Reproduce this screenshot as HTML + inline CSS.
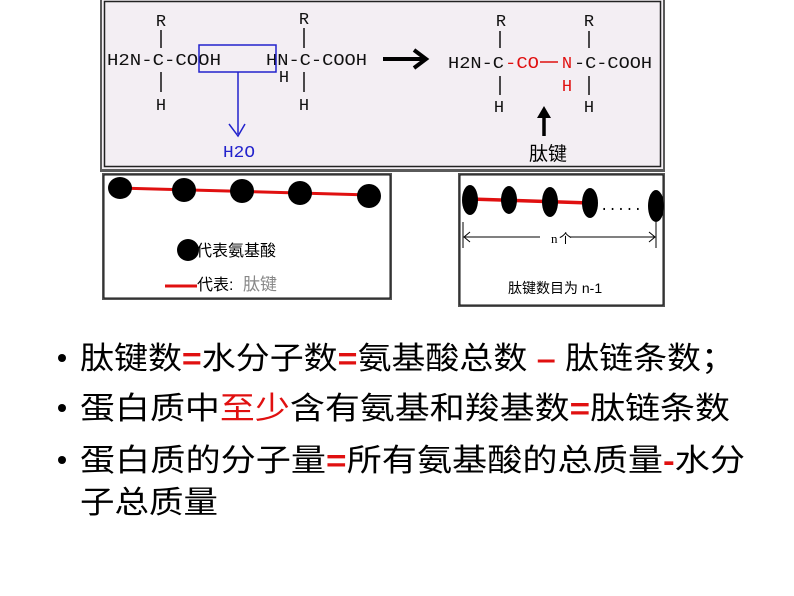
<!DOCTYPE html>
<html><head><meta charset="utf-8"><style>
html,body{margin:0;padding:0;background:#fff;}
svg{display:block}
.m{font-family:"Liberation Mono","DejaVu Sans Mono",monospace;font-size:17px;}
.t{font-family:"Liberation Sans","Noto Sans CJK SC",sans-serif;font-size:31px;fill:#000;}
</style></head><body>
<svg width="794" height="596" viewBox="0 0 794 596" xmlns="http://www.w3.org/2000/svg">
<!-- top box -->
<rect x="100" y="0" width="565" height="172" fill="#5a5a5a"/>
<rect x="102" y="0" width="561" height="169" fill="#f3eef3"/>
<rect x="104.5" y="1.5" width="556" height="165" fill="none" stroke="#222" stroke-width="1.5"/>
<g class="m" fill="#111">
<text x="161" y="26" text-anchor="middle">R</text>
<line x1="161" y1="30" x2="161" y2="48" stroke="#111" stroke-width="1.5"/>
<text x="107" y="65" textLength="114" lengthAdjust="spacingAndGlyphs">H2N-C-COOH</text>
<line x1="161" y1="72" x2="161" y2="92" stroke="#111" stroke-width="1.5"/>
<text x="161" y="110" text-anchor="middle">H</text>
<text x="304" y="24" text-anchor="middle">R</text>
<line x1="304" y1="28" x2="304" y2="48" stroke="#111" stroke-width="1.5"/>
<text x="266" y="65" textLength="101" lengthAdjust="spacingAndGlyphs">HN-C-COOH</text>
<text x="284" y="82" text-anchor="middle">H</text>
<line x1="304" y1="72" x2="304" y2="92" stroke="#111" stroke-width="1.5"/>
<text x="304" y="110" text-anchor="middle">H</text>
</g>
<rect x="199" y="45" width="77" height="27" fill="none" stroke="#2222cc" stroke-width="1.5"/>
<line x1="238" y1="72" x2="238" y2="134" stroke="#2222cc" stroke-width="1.5"/>
<polyline points="229,124 238,136 245,124" fill="none" stroke="#2222cc" stroke-width="1.5"/>
<text class="m" x="239" y="157" text-anchor="middle" fill="#2222cc" textLength="32" lengthAdjust="spacingAndGlyphs">H2O</text>
<!-- arrow -->
<line x1="383" y1="59" x2="423" y2="59" stroke="#000" stroke-width="4"/>
<polyline points="414,50 426,59 414,68" fill="none" stroke="#000" stroke-width="4"/>
<!-- product -->
<g class="m">
<text x="501" y="26" text-anchor="middle" fill="#111">R</text>
<line x1="500" y1="31" x2="500" y2="48" stroke="#111" stroke-width="1.5"/>
<text x="448" y="68" fill="#111" textLength="56" lengthAdjust="spacingAndGlyphs">H2N-C</text>
<text x="505" y="68" fill="#e01010" textLength="34" lengthAdjust="spacingAndGlyphs">-CO</text>
<line x1="540" y1="62" x2="558" y2="62" stroke="#e01010" stroke-width="1.5"/>
<text x="567" y="68" text-anchor="middle" fill="#e01010">N</text>
<text x="567" y="91" text-anchor="middle" fill="#e01010">H</text>
<text x="574" y="68" fill="#111" textLength="78" lengthAdjust="spacingAndGlyphs">-C-COOH</text>
<line x1="500" y1="76" x2="500" y2="95" stroke="#111" stroke-width="1.5"/>
<text x="499" y="112" text-anchor="middle" fill="#111">H</text>
<text x="589" y="26" text-anchor="middle" fill="#111">R</text>
<line x1="589" y1="31" x2="589" y2="48" stroke="#111" stroke-width="1.5"/>
<line x1="589" y1="76" x2="589" y2="95" stroke="#111" stroke-width="1.5"/>
<text x="589" y="112" text-anchor="middle" fill="#111">H</text>
</g>
<line x1="544" y1="112" x2="544" y2="136" stroke="#000" stroke-width="3.5"/>
<polygon points="537,118 544,106 551,118" fill="#000"/>
<text x="548" y="160" text-anchor="middle" font-family="Liberation Sans,Noto Sans CJK SC,sans-serif" font-size="19" fill="#000">肽键</text>

<!-- bottom left -->
<rect x="102" y="173" width="290" height="127" fill="#555"/>
<rect x="104" y="175" width="286" height="123" fill="#fff" stroke="#111" stroke-width="1"/>
<line x1="120" y1="188" x2="370" y2="195" stroke="#e01010" stroke-width="3"/>
<g fill="#000">
<ellipse cx="120" cy="188" rx="12" ry="11"/>
<ellipse cx="184" cy="190" rx="12" ry="12"/>
<ellipse cx="242" cy="191" rx="12" ry="12"/>
<ellipse cx="300" cy="193" rx="12" ry="12"/>
<ellipse cx="369" cy="196" rx="12" ry="12"/>
<ellipse cx="188" cy="250" rx="11" ry="11"/>
</g>
<g font-family="Liberation Sans,Noto Sans CJK SC,sans-serif" font-size="16">
<text x="196" y="256">代表氨基酸</text>
<line x1="165" y1="286" x2="197" y2="286" stroke="#e01010" stroke-width="3"/>
<text x="197" y="290">代表:</text>
<text x="243" y="290" fill="#888" font-size="17">肽键</text>
</g>

<!-- bottom right -->
<rect x="458" y="173" width="207" height="134" fill="#555"/>
<rect x="460" y="175" width="203" height="130" fill="#fff" stroke="#111" stroke-width="1"/>
<line x1="470" y1="199" x2="590" y2="203" stroke="#e01010" stroke-width="3.5"/>
<g fill="#000">
<ellipse cx="470" cy="200" rx="8" ry="15"/>
<ellipse cx="509" cy="200" rx="8" ry="14"/>
<ellipse cx="550" cy="202" rx="8" ry="15"/>
<ellipse cx="590" cy="203" rx="8" ry="15"/>
<ellipse cx="656" cy="206" rx="8" ry="16"/>
</g>
<text x="600" y="210" font-family="Liberation Mono,monospace" font-size="14">.....</text>
<line x1="463" y1="222" x2="463" y2="248" stroke="#000"/>
<line x1="656" y1="222" x2="656" y2="248" stroke="#000"/>
<line x1="465" y1="237" x2="540" y2="237" stroke="#000"/>
<line x1="570" y1="237" x2="655" y2="237" stroke="#000"/>
<polyline points="470,232 464,237 470,242" fill="none" stroke="#000"/>
<polyline points="649,232 655,237 649,242" fill="none" stroke="#000"/>
<text x="551" y="243" font-family="Liberation Serif,serif" font-size="13">n</text>
<text x="559" y="243" font-family="Liberation Sans,Noto Sans CJK SC,sans-serif" font-size="13">个</text>
<text x="508" y="293" font-family="Liberation Sans,Noto Sans CJK SC,sans-serif" font-size="14">肽键数目为 n-1</text>

<!-- bullets -->
<g class="t">
<circle cx="62" cy="358" r="4" fill="#000"/>
<circle cx="62" cy="408" r="4" fill="#000"/>
<circle cx="62" cy="460" r="4" fill="#000"/>
<text x="80" y="369" textLength="655" lengthAdjust="spacingAndGlyphs">肽键数<tspan fill="#e01010" font-weight="bold">=</tspan>水分子数<tspan fill="#e01010" font-weight="bold">=</tspan>氨基酸总数 <tspan fill="#e01010" font-weight="bold">–</tspan> 肽链条数；</text>
<text x="80" y="419" textLength="650" lengthAdjust="spacingAndGlyphs">蛋白质中<tspan fill="#e01010">至少</tspan>含有氨基和羧基数<tspan fill="#e01010" font-weight="bold">=</tspan>肽链条数</text>
<text x="80" y="471" textLength="665" lengthAdjust="spacingAndGlyphs">蛋白质的分子量<tspan fill="#e01010" font-weight="bold">=</tspan>所有氨基酸的总质量<tspan fill="#e01010" font-weight="bold">-</tspan>水分</text>
<text x="80" y="513" textLength="138" lengthAdjust="spacingAndGlyphs">子总质量</text>
</g>
</svg>
</body></html>
